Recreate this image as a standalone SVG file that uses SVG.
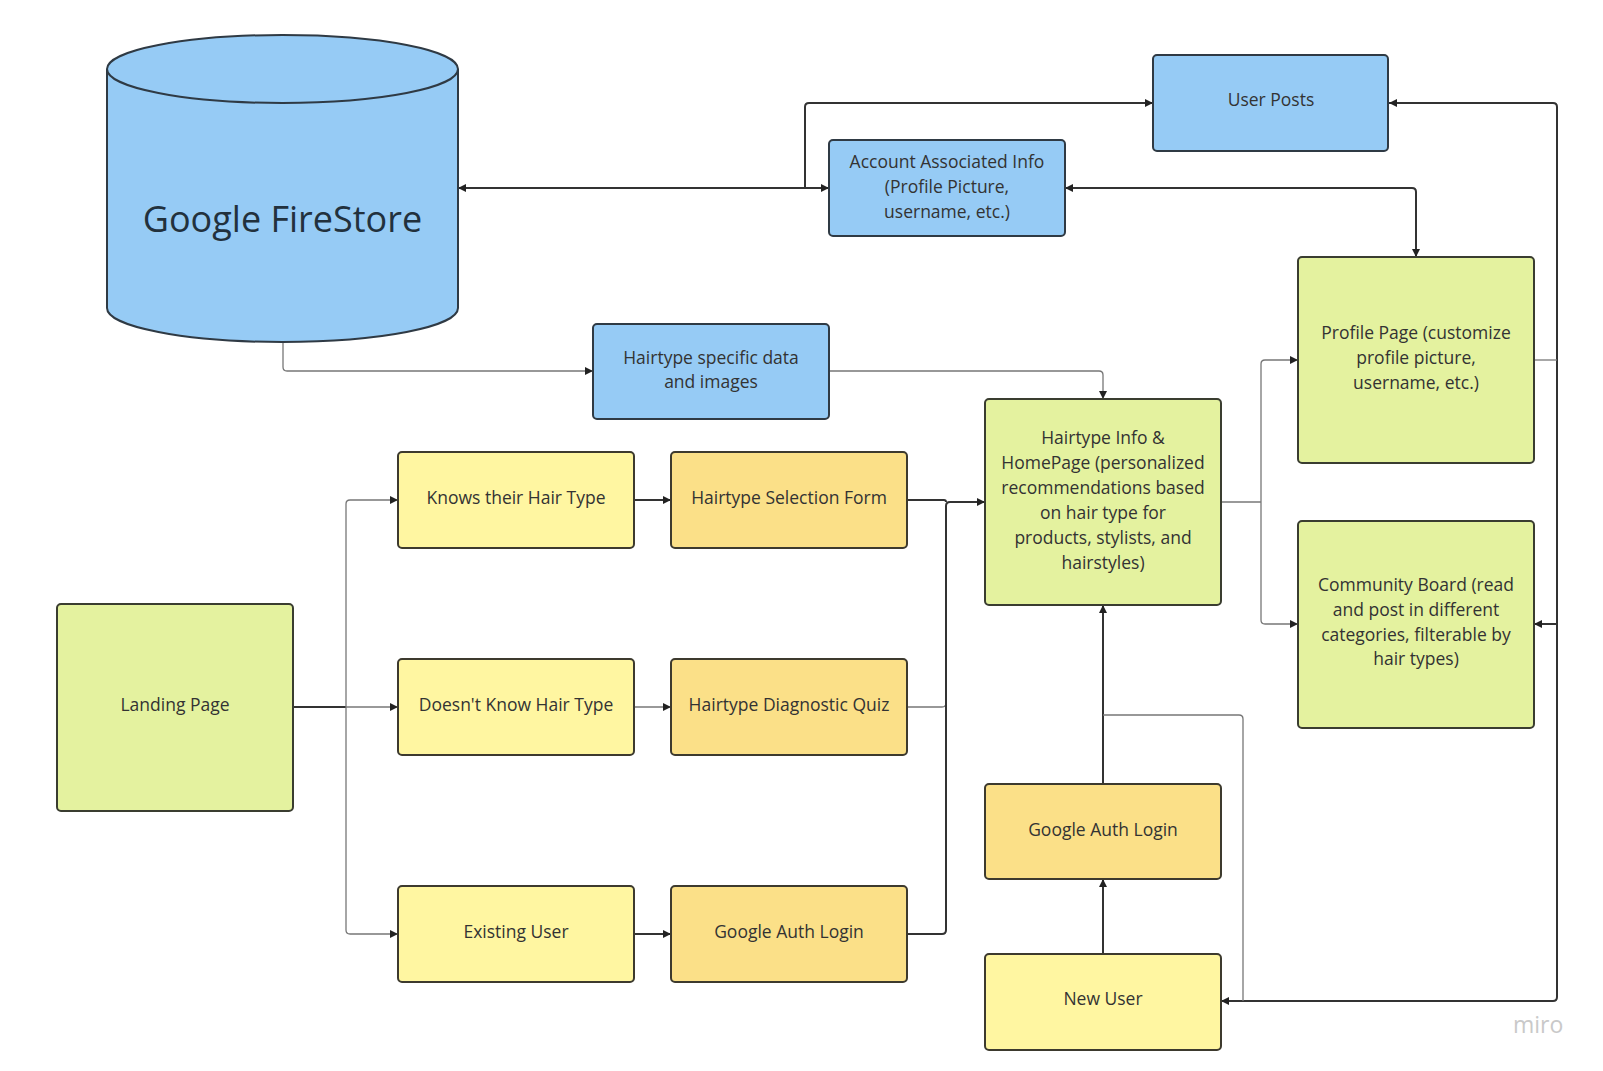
<svg xmlns="http://www.w3.org/2000/svg" width="1603" height="1071" viewBox="0 0 1603 1071">
<style>
.blue{fill:#96cbf5;stroke:#2f3a44;stroke-width:2}
.green{fill:#e4f29f;stroke:#3a3d30;stroke-width:2}
.yel{fill:#fff6a1;stroke:#3d3a2e;stroke-width:2}
.org{fill:#fbe088;stroke:#3d3a2e;stroke-width:2}
text{font-family:"Open Sans","Noto Sans","Liberation Sans",sans-serif;font-size:17.5px;fill:#333;text-anchor:middle}
.big{font-size:36px;fill:#22313d}
.thick{fill:none;stroke:#333;stroke-width:2}
.thin{fill:none;stroke:#777;stroke-width:1.3}
.miro{font-size:23px;fill:#c9c9c9;text-anchor:start}
</style>
<defs>
<marker id="ah" viewBox="0 0 10 10" refX="10" refY="5" markerWidth="9" markerHeight="8" markerUnits="userSpaceOnUse" orient="auto-start-reverse"><path d="M0,0 L10,5 L0,10 z" fill="#222"/></marker>
</defs>
<rect width="1603" height="1071" fill="#ffffff"/>

<g id="connectors">
<path class="thick" d="M829,188 H458" marker-start="url(#ah)" marker-end="url(#ah)"/>
<path class="thick" d="M805,188 V107 Q805,103 809,103 H1153" marker-end="url(#ah)"/>
<path class="thick" d="M1065,188 H1412 Q1416,188 1416,192 V257" marker-start="url(#ah)" marker-end="url(#ah)"/>
<path class="thick" d="M1389,103 H1553 Q1557,103 1557,107 V997 Q1557,1001 1553,1001 H1221" marker-start="url(#ah)" marker-end="url(#ah)"/>
<path class="thick" d="M1557,624 H1534" marker-end="url(#ah)"/>
<path class="thin" d="M1534,360 H1557"/>
<path class="thin" d="M283,342 V367 Q283,371 287,371 H593" marker-end="url(#ah)"/>
<path class="thin" d="M829,371 H1099 Q1103,371 1103,375 V399" marker-end="url(#ah)"/>
<path class="thick" d="M293,707 H346"/>
<path class="thin" d="M398,500 H350 Q346,500 346,504 V930 Q346,934 350,934 H398" marker-start="url(#ah)" marker-end="url(#ah)"/>
<path class="thin" d="M346,707 H398" marker-end="url(#ah)"/>
<path class="thick" d="M634,500 H671" marker-end="url(#ah)"/>
<path class="thin" d="M634,707 H671" marker-end="url(#ah)"/>
<path class="thick" d="M634,934 H671" marker-end="url(#ah)"/>
<path class="thick" d="M907,500 H944 Q946,500 946,502"/>
<path class="thin" d="M907,707 H942 Q946,707 946,703"/>
<path class="thick" d="M907,934 H942 Q946,934 946,930 V506 Q946,502 950,502 H985" marker-end="url(#ah)"/>
<path class="thin" d="M1221,502 H1261"/>
<path class="thin" d="M1298,360 H1265 Q1261,360 1261,364 V620 Q1261,624 1265,624 H1298" marker-start="url(#ah)" marker-end="url(#ah)"/>
<path class="thick" d="M1103,784 V605" marker-end="url(#ah)"/>
<path class="thick" d="M1103,954 V879" marker-end="url(#ah)"/>
<path class="thin" d="M1103,715 H1239 Q1243,715 1243,719 V1001"/>
</g>

<g id="firestore">
<path class="blue" d="M107,69 V308 A175.5,34 0 0 0 458,308 V69"/>
<ellipse class="blue" cx="282.5" cy="69" rx="175.5" ry="34"/>
<text class="big" x="282.5" y="232">Google FireStore</text>
</g>

<g id="user-posts">
<rect class="blue" x="1153" y="55" width="235" height="96" rx="4"/>
<text x="1271" y="106">User Posts</text>
</g>

<g id="account-info">
<rect class="blue" x="829" y="140" width="236" height="96" rx="4"/>
<text x="947" y="167.5">Account Associated Info</text>
<text x="947" y="193">(Profile Picture,</text>
<text x="947" y="217.5">username, etc.)</text>
</g>

<g id="hairtype-data">
<rect class="blue" x="593" y="324" width="236" height="95" rx="4"/>
<text x="711" y="364">Hairtype specific data</text>
<text x="711" y="388">and images</text>
</g>

<g id="homepage">
<rect class="green" x="985" y="399" width="236" height="206" rx="4"/>
<text x="1103" y="443.5">Hairtype Info &amp;</text>
<text x="1103" y="468.5">HomePage (personalized</text>
<text x="1103" y="493.5">recommendations based</text>
<text x="1103" y="518.5">on hair type for</text>
<text x="1103" y="543.5">products, stylists, and</text>
<text x="1103" y="568.5">hairstyles)</text>
</g>

<g id="profile-page">
<rect class="green" x="1298" y="257" width="236" height="206" rx="4"/>
<text x="1416" y="339">Profile Page (customize</text>
<text x="1416" y="364">profile picture,</text>
<text x="1416" y="388.5">username, etc.)</text>
</g>

<g id="community-board">
<rect class="green" x="1298" y="521" width="236" height="207" rx="4"/>
<text x="1416" y="591">Community Board (read</text>
<text x="1416" y="615.5">and post in different</text>
<text x="1416" y="640.5">categories, filterable by</text>
<text x="1416" y="665">hair types)</text>
</g>

<g id="landing-page">
<rect class="green" x="57" y="604" width="236" height="207" rx="4"/>
<text x="175" y="711">Landing Page</text>
</g>

<g id="knows">
<rect class="yel" x="398" y="452" width="236" height="96" rx="4"/>
<text x="516" y="504">Knows their Hair Type</text>
</g>

<g id="selection-form">
<rect class="org" x="671" y="452" width="236" height="96" rx="4"/>
<text x="789" y="504">Hairtype Selection Form</text>
</g>

<g id="doesnt-know">
<rect class="yel" x="398" y="659" width="236" height="96" rx="4"/>
<text x="516" y="711">Doesn't Know Hair Type</text>
</g>

<g id="diagnostic-quiz">
<rect class="org" x="671" y="659" width="236" height="96" rx="4"/>
<text x="789" y="711">Hairtype Diagnostic Quiz</text>
</g>

<g id="existing-user">
<rect class="yel" x="398" y="886" width="236" height="96" rx="4"/>
<text x="516" y="938">Existing User</text>
</g>

<g id="google-auth-1">
<rect class="org" x="671" y="886" width="236" height="96" rx="4"/>
<text x="789" y="938">Google Auth Login</text>
</g>

<g id="google-auth-2">
<rect class="org" x="985" y="784" width="236" height="95" rx="4"/>
<text x="1103" y="836">Google Auth Login</text>
</g>

<g id="new-user">
<rect class="yel" x="985" y="954" width="236" height="96" rx="4"/>
<text x="1103" y="1005">New User</text>
</g>

<text class="miro" x="1513" y="1033">miro</text>
</svg>
